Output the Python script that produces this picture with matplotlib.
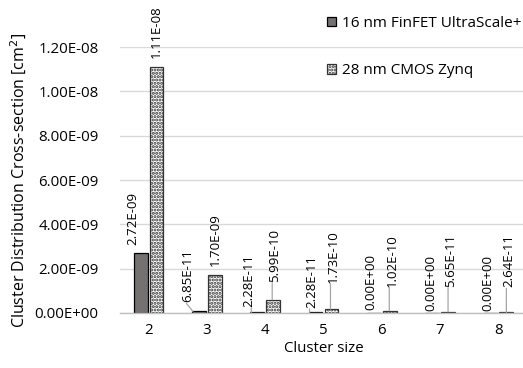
import matplotlib
matplotlib.use("Agg")
import matplotlib.pyplot as plt
from matplotlib.transforms import offset_copy
import numpy as np

plt.rcParams['font.family'] = ['Open Sans', 'DejaVu Sans']
plt.rcParams['hatch.linewidth'] = 1.5

# ---- data ----
cluster_sizes = [2, 3, 4, 5, 6, 7, 8]
series_names = ["16 nm FinFET UltraScale+", "28 nm CMOS Zynq"]
finfet_values = [2.72e-9, 6.85e-11, 2.28e-11, 2.28e-11, 0.0, 0.0, 0.0]
zynq_values = [1.11e-8, 1.70e-9, 5.99e-10, 1.73e-10, 1.02e-10, 5.65e-11, 2.64e-11]
finfet_labels = ["2.72E-09", "6.85E-11", "2.28E-11", "2.28E-11", "0.00E+00", "0.00E+00", "0.00E+00"]
zynq_labels = ["1.11E-08", "1.70E-09", "5.99E-10", "1.73E-10", "1.02E-10", "5.65E-11", "2.64E-11"]
y_ticks = [0, 2e-9, 4e-9, 6e-9, 8e-9, 1.0e-8, 1.2e-8]
y_tick_labels = ["0.00E+00", "2.00E-09", "4.00E-09", "6.00E-09", "8.00E-09", "1.00E-08", "1.20E-08"]

# label placement (pixels from bar top centre: text dx, text dy, leader x or None)
finfet_offsets = [(-8, 8, None), (-11, 9, -6), (-8, 5, -6), (-3.5, 4.5, -6),
                  (-3, 3, None), (-1, 2, None), (-2, 2, None)]
zynq_offsets = [(0, 9, None), (0, 9, None), (1.5, 18, -1), (2, 26, -1),
                (3, 24, -0.5), (2.5, 25, 0), (2.5, 25, 0)]

W, H = 523, 368
fig = plt.figure(figsize=(W / 100, H / 100), dpi=100)
ax = fig.add_axes([119.5 / W, (H - 313) / H, 408 / W, 266 / H])

x = np.arange(len(cluster_sizes))
bw = 0.235
off = 0.137
ax.bar(x - off, finfet_values, bw, color="#767171", edgecolor="#000000",
       linewidth=0.9, label=series_names[0], zorder=3)
ax.bar(x + off, zynq_values, bw, color="white", edgecolor="#333333",
       hatch=".....", linewidth=0.9, label=series_names[1], zorder=3)

def add_labels(xs, vals, labels, offsets):
    for xi, v, lab, (dx, dy, lead) in zip(xs, vals, labels, offsets):
        ax.annotate(lab, xy=(xi, v), xytext=(dx, dy), textcoords="offset pixels",
                    rotation=90, ha="center", va="bottom", fontsize=9.5,
                    color="#000000", annotation_clip=False)
        if lead is not None:
            tr = offset_copy(ax.transData, fig=fig, x=lead, y=0, units="dots")
            tip_dx = (dx - lead - 1.5) if abs(dx - lead) > 4 else 0
            ax.annotate("", xy=(xi, v), xycoords=tr, xytext=(tip_dx, dy - 1),
                        textcoords="offset pixels", annotation_clip=False,
                        arrowprops=dict(arrowstyle="-", color="#a6a6a6", lw=0.9,
                                        shrinkA=0, shrinkB=0))

add_labels(x - off, finfet_values, finfet_labels, finfet_offsets)
add_labels(x + off, zynq_values, zynq_labels, zynq_offsets)

ax.set_xlim(-0.5, len(cluster_sizes) - 0.5)
ax.set_ylim(0, 1.2e-8)
ax.set_yticks(y_ticks)
ax.set_yticklabels(y_tick_labels, fontsize=10.8)
ax.set_xticks(x)
ax.set_xticklabels([str(c) for c in cluster_sizes], fontsize=10.8)
ax.tick_params(axis="x", length=0, pad=7)
ax.tick_params(axis="y", length=0, pad=15)
ax.grid(axis="y", color="#d9d9d9", linewidth=1.0, zorder=0)
for s in ["top", "right", "left"]:
    ax.spines[s].set_visible(False)
ax.spines["bottom"].set_color("#bfbfbf")
ax.spines["bottom"].set_linewidth(1.0)
ax.spines["bottom"].set_zorder(4)

ax.set_xlabel("Cluster size", fontsize=10.8, labelpad=2)
ax.set_ylabel("Cluster Distribution Cross-section [cm$^2$]", fontsize=11.5, labelpad=4)

ax.legend(loc="upper left", bbox_to_anchor=(327 / W, 1 - 16 / H),
          bbox_transform=fig.transFigure, frameon=False, fontsize=11,
          handlelength=0.6, handleheight=0.6, handletextpad=0.4,
          labelspacing=2.12, borderpad=0, borderaxespad=0)

fig.savefig("out.png", dpi=100)
